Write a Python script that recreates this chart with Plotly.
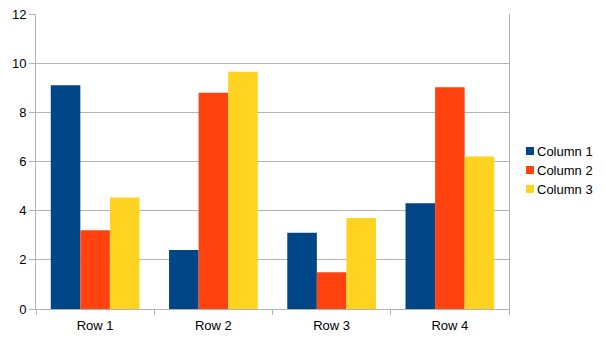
import plotly.graph_objects as go

categories = ["Row 1", "Row 2", "Row 3", "Row 4"]
col1 = [9.1, 2.4, 3.1, 4.3]
col2 = [3.2, 8.8, 1.5, 9.02]
col3 = [4.54, 9.65, 3.7, 6.2]
series_names = ["Column 1", "Column 2", "Column 3"]
colors = ["#004586", "#ff420e", "#ffd320"]

W, H = 606, 341
L, R, T, B = 36, 97, 14, 32
pw, ph = W - L - R, H - T - B

fig = go.Figure()
for name, vals, c in zip(series_names, [col1, col2, col3], colors):
    fig.add_trace(go.Bar(x=categories, y=vals, name=name, showlegend=False,
                         marker=dict(color=c, line=dict(width=0))))

# manual legend (LibreOffice style: small square + text)
leg_y_px = [151, 170, 189]
for name, c, ypx in zip(series_names, colors, leg_y_px):
    yc = (H - B - ypx) / ph
    x0 = (526 - L) / pw
    x1 = (534 - L) / pw
    fig.add_shape(type="rect", xref="paper", yref="paper",
                  x0=x0, x1=x1, y0=yc - 4 / ph, y1=yc + 4 / ph,
                  fillcolor=c, line=dict(width=0))
    fig.add_annotation(text=name, xref="paper", yref="paper",
                       x=(536 - L) / pw, y=yc, xanchor="left", yanchor="middle",
                       showarrow=False, font=dict(size=13, color="#000000"),
                       borderpad=0)

fig.update_layout(
    width=W, height=H,
    margin=dict(l=L, r=R, t=T, b=B, autoexpand=False),
    barmode="group", bargap=0.25, bargroupgap=0,
    plot_bgcolor="white", paper_bgcolor="white",
    font=dict(family="Liberation Sans", size=13, color="#000000"),
    showlegend=False,
)
fig.update_xaxes(showline=True, linecolor="#b3b3b3", linewidth=1, mirror=False,
                 ticks="outside", tickson="boundaries", ticklen=5, tickcolor="#b3b3b3",
                 showgrid=False, automargin=False, ticklabelstandoff=4)
fig.update_yaxes(range=[0, 12], dtick=2, showline=True, linecolor="#b3b3b3", linewidth=1,
                 mirror=True, ticks="outside", ticklen=6, tickcolor="#b3b3b3",
                 gridcolor="#b3b3b3", gridwidth=1, zeroline=False, automargin=False)
fig.write_html("out.html")
